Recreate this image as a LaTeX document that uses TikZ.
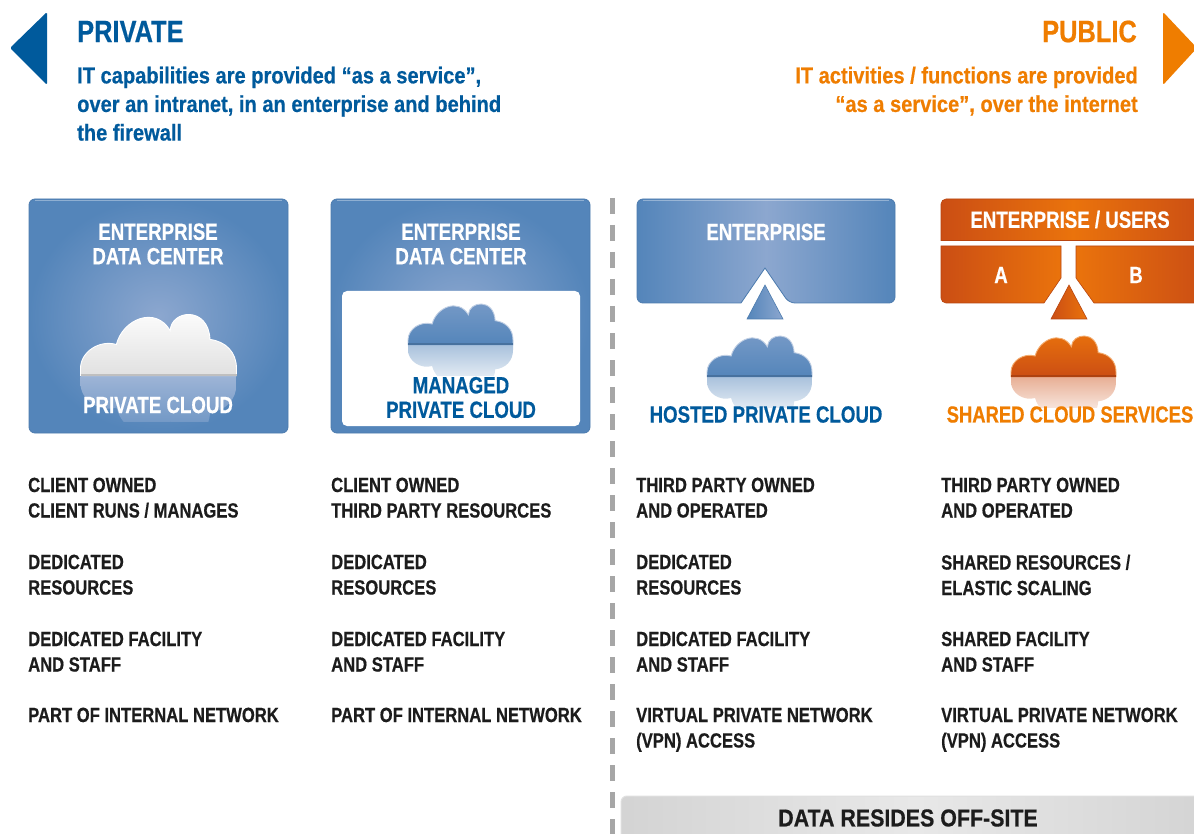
\documentclass[tikz,border=0pt]{standalone}
\usepackage{fontspec}
\setmainfont{Liberation Sans}
\newfontfamily\hd{Liberation Sans}[UprightFont=* Bold,FakeStretch=0.81,FakeBold=0.5]
\newfontfamily\bx{Liberation Sans}[UprightFont=* Bold,FakeStretch=0.795,FakeBold=0.5]
\newfontfamily\hl{Liberation Sans}[UprightFont=* Bold,FakeStretch=0.82,FakeBold=0.5]
\newfontfamily\sh{Liberation Sans}[UprightFont=* Bold,FakeStretch=0.873,FakeBold=0.5]
\definecolor{pblue}{HTML}{005A9C}
\definecolor{porange}{HTML}{EF7D00}
\definecolor{boxout}{HTML}{5485BA}
\definecolor{boxin}{HTML}{8CA7CF}
\definecolor{boxedge}{HTML}{4C7BAE}
\definecolor{orout}{HTML}{CB4E14}
\definecolor{orin}{HTML}{EA730C}
\definecolor{oredge}{HTML}{B84510}
\definecolor{ink}{HTML}{1C1C1C}
\newcommand{\cloudshape}{(0,0) -- (0,.12) .. controls (0,.38) and (.12,.58) .. (.23,.5) .. controls (.27,.9) and (.48,1.12) .. (.575,.72) .. controls (.58,1.05) and (.82,1.12) .. (.83,.58) .. controls (.93,.55) and (1,.38) .. (1,.12) -- (1,0)}
\newcommand{\cloudrefl}[7]{%
  \begin{scope}
    \clip (#1,#2) rectangle (#1+#3,#2+.72*#4);
    \begin{scope}[shift={(#1,#2)},x=#3pt,y=-#4pt]
      \shade[top color=#5,middle color=#6,bottom color=#7] \cloudshape -- cycle;
    \end{scope}
  \end{scope}}
\newcommand{\cloudbody}[7]{%
  \colorlet{cloudlow}{#6}%
  \begin{scope}[shift={(#1,#2)},x=#3pt,y=#4pt]
    \shade[top color=#5,bottom color=#6] \cloudshape -- cycle;
    \draw[#7,line width=.9pt] \cloudshape;
    \draw[cloudlow!85!black,line width=2pt] (0,.02) -- (1,.02);
  \end{scope}}
\tikzset{
  x=1pt,y=-1pt,
  body/.style={anchor=north west,inner sep=0pt,align=left,text=ink,font=\hd\fontsize{20.5}{25.5}\selectfont},
  boxlabel/.style={inner sep=0pt,align=center,text=white,font=\bx\fontsize{23.5}{24.5}\selectfont},
  sublabel/.style={inner sep=0pt,align=center,font=\bx\fontsize{23.5}{24.5}\selectfont},
  headline/.style={inner sep=0pt,font=\hl\fontsize{31}{33}\selectfont},
  subhead/.style={inner sep=0pt,font=\sh\fontsize{23}{28.6}\selectfont},
  bluebox/.style={draw=boxedge,line width=.8pt},
  orbox/.style={draw=oredge,line width=.6pt},
}
\begin{document}
\begin{tikzpicture}
\useasboundingbox (0,0) rectangle (1194,834);
\clip (0,0) rectangle (1194,834);
\fill[white] (0,0) rectangle (1194,834);

% header arrows
\fill[pblue,rounded corners=1.5pt] (47,12) -- (10,48) -- (47,85) -- cycle;
\fill[porange,rounded corners=1.5pt] (1163,12) -- (1197,48) -- (1163,85) -- cycle;

\node[headline,text=pblue,anchor=west] (privhead) at (77,31.5) {PRIVATE};
\node[headline,text=porange,anchor=east] (pubhead) at (1137,31.5) {PUBLIC};
\node[subhead,text=pblue,anchor=north west,align=left] (privtext) at (77,66.5) {IT capabilities are provided “as a service”,\\over an intranet, in an enterprise and behind\\the firewall};
\node[subhead,text=porange,anchor=north east,align=right] (pubtext) at (1138,66.5) {IT activities / functions are provided\\“as a service”, over the internet};

% divider
\draw[draw=black!35,line width=5pt,dash pattern=on 16pt off 11pt] (612,198) -- (612,834);

% box 1
\shade[bluebox,rounded corners=6pt,inner color=boxin,outer color=boxout] (29,199) rectangle (288,433);
\draw[white,opacity=.35,line width=1pt] (35,200.5) -- (282,200.5);
\node[boxlabel] (b1t) at (158,244) {ENTERPRISE\\DATA CENTER};
\cloudrefl{80.5}{376}{156}{63}{boxin!85!white}{boxin!55!boxout}{boxout!85!boxin}
\cloudbody{80.5}{376}{156}{63}{white}{black!12}{white}
\node[boxlabel,font=\bx\fontsize{23.5}{24}\selectfont] (b1c) at (158,405) {PRIVATE CLOUD};

% box 2
\shade[bluebox,rounded corners=6pt,inner color=boxin,outer color=boxout] (331,199) rectangle (590,433);
\draw[white,opacity=.35,line width=1pt] (337,200.5) -- (584,200.5);
\node[boxlabel] (b2t) at (461,244) {ENTERPRISE\\DATA CENTER};
\fill[white,rounded corners=5pt] (342,291) rectangle (580,426);
\cloudrefl{408}{345}{105}{42}{boxout!50!white}{white!88!boxout}{white}
\cloudbody{408}{345}{105}{42}{boxin!65!boxout}{boxout}{boxin!55!white}
\node[sublabel,text=pblue] (b2c) at (461,397.5) {MANAGED\\PRIVATE CLOUD};

% box 3
\shade[bluebox,left color=boxout,right color=boxout,middle color=boxin]
  [rounded corners=6pt] (637,250) -- (637,199) -- (895,199) -- (895,303) -- (789,303) [sharp corners] -- (765,268) -- (741,303) [rounded corners=6pt] -- (637,303) -- cycle;
\draw[white,opacity=.35,line width=1pt] (643,200.5) -- (889,200.5);
\node[boxlabel] (b3t) at (766,232) {ENTERPRISE};
\shade[left color=boxout,right color=boxin,draw=boxedge,line width=.6pt] (765,285) -- (783,319) -- (747,319) -- cycle;
\cloudrefl{707}{377}{105}{42}{boxout!50!white}{white!88!boxout}{white}
\cloudbody{707}{377}{105}{42}{boxin!65!boxout}{boxout}{boxin!55!white}
\node[sublabel,text=pblue] (b3c) at (766,414.5) {HOSTED PRIVATE CLOUD};

% box 4
\shade[orbox,left color=orout,right color=orout,middle color=orin]
  [rounded corners=5pt] (941,220) -- (941,199) [sharp corners] -- (1205,199) -- (1205,240.5) -- (941,240.5) -- cycle;
\node[boxlabel] (b4t) at (1070,219.5) {ENTERPRISE / USERS};
\shade[orbox,left color=orout,right color=orin]
  (1061,246) -- (1061,278) -- (1044,303) [rounded corners=5pt] -- (941,303) [sharp corners] -- (941,246) -- cycle;
\shade[orbox,left color=orin,right color=orout]
  (1076,246) -- (1205,246) -- (1205,303) -- (1094,303) -- (1076,278) -- cycle;
\node[boxlabel] (b4a) at (1001,275) {A};
\node[boxlabel] (b4b) at (1136,275) {B};
\shade[left color=orout,right color=orin,draw=oredge,line width=.6pt] (1069,285) -- (1087,319) -- (1051,319) -- cycle;
\cloudrefl{1011}{377}{105}{42}{orout!45!white}{white!88!orout}{white}
\cloudbody{1011}{377}{105}{42}{orin}{orout}{orin!60!white}
\node[sublabel,text=porange,font=\bx\fontsize{23.2}{24.5}\selectfont] (b4c) at (1070,414.5) {SHARED CLOUD SERVICES};

% text columns
\node[body] (c1a) at (28,477.5) {CLIENT OWNED\\CLIENT RUNS / MANAGES};
\node[body] (c1b) at (28,554.5) {DEDICATED\\RESOURCES};
\node[body] (c1c) at (28,631.5) {DEDICATED FACILITY\\AND STAFF};
\node[body] (c1d) at (28,707.5) {PART OF INTERNAL NETWORK};

\node[body] (c2a) at (331,477.5) {CLIENT OWNED\\THIRD PARTY RESOURCES};
\node[body] (c2b) at (331,554.5) {DEDICATED\\RESOURCES};
\node[body] (c2c) at (331,631.5) {DEDICATED FACILITY\\AND STAFF};
\node[body] (c2d) at (331,707.5) {PART OF INTERNAL NETWORK};

\node[body] (c3a) at (636,477.5) {THIRD PARTY OWNED\\AND OPERATED};
\node[body] (c3b) at (636,554.5) {DEDICATED\\RESOURCES};
\node[body] (c3c) at (636,631.5) {DEDICATED FACILITY\\AND STAFF};
\node[body] (c3d) at (636,707.5) {VIRTUAL PRIVATE NETWORK\\(VPN) ACCESS};

\node[body] (c4a) at (941,477.5) {THIRD PARTY OWNED\\AND OPERATED};
\node[body] (c4b) at (941,554.5) {SHARED RESOURCES /\\ELASTIC SCALING};
\node[body] (c4c) at (941,631.5) {SHARED FACILITY\\AND STAFF};
\node[body] (c4d) at (941,707.5) {VIRTUAL PRIVATE NETWORK\\(VPN) ACCESS};

% off-site band
\shade[left color=black!17,right color=black!17,middle color=black!9,draw=black!12,line width=1pt,rounded corners=6pt]
  (621,796) -- (1210,796) -- (1210,850) -- (621,850) -- cycle;
\node[sublabel,text=ink,font=\sh\fontsize{24.5}{26}\selectfont] (offsite) at (908,818) {DATA RESIDES OFF-SITE};
\end{tikzpicture}
\end{document}
